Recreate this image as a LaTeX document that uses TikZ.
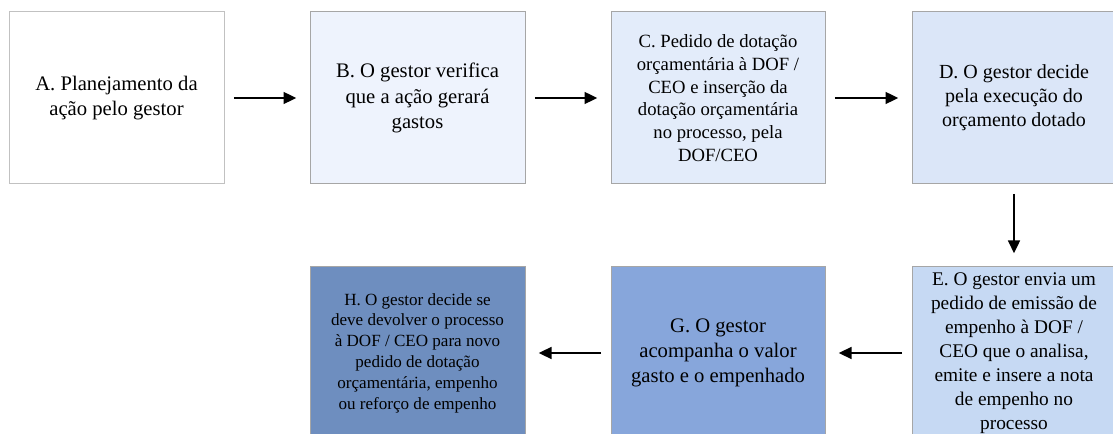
\documentclass[tikz,border=0pt]{standalone}
\usepackage{fontspec}
\setmainfont{Liberation Serif}
\newfontfamily\boxserif{Liberation Serif}
\usetikzlibrary{arrows.meta}
\definecolor{fillA}{HTML}{FFFFFF}
\definecolor{fillB}{HTML}{EEF3FD}
\definecolor{fillC}{HTML}{E3ECFA}
\definecolor{fillD}{HTML}{DBE6F8}
\definecolor{fillE}{HTML}{C6D9F3}
\definecolor{fillG}{HTML}{87A6DB}
\definecolor{fillH}{HTML}{6E8EBF}
\definecolor{edge}{HTML}{A6A6A6}
\newcommand{\boxfont}[2]{\boxserif\fontsize{#1}{#2}\selectfont}

\begin{document}
\begin{tikzpicture}[x=0.75pt, y=-0.75pt,
  stage/.style={draw=edge, line width=0.75pt, align=center, inner sep=0pt,
    minimum width=161.25pt, minimum height=129pt, font=\boxfont{15.5}{19}},
  flow/.style={-{Triangle[length=9.5pt,width=9pt]}, line width=1.2pt,
    shorten <=7pt, shorten >=10pt}]
\useasboundingbox (0,0) rectangle (1113,434);

% first row
\node[stage, draw=edge!70, fill=fillA] (a) at (116.5,98)
  {A. Planejamento da\\ação pelo gestor};
\node[stage, fill=fillB] (b) at (417.5,98)
  {B. O gestor verifica\\que a ação gerará\\gastos};
\node[stage, fill=fillC, minimum width=160.5pt, font=\boxfont{14}{17}] (c) at (718,98)
  {C. Pedido de dotação\\orçamentária à DOF /\\CEO e inserção da\\dotação orçamentária\\no processo, pela\\DOF/CEO};
\node[stage, fill=fillD, minimum width=153pt, font=\boxfont{15}{18}] (d) at (1014,98)
  {D. O gestor decide\\pela execução do\\orçamento dotado};

% second row
\node[stage, fill=fillE, minimum width=153pt, font=\boxfont{14.5}{18}] (e) at (1014,353)
  {E. O gestor envia um\\pedido de emissão de\\empenho à DOF /\\CEO que o analisa,\\emite e insere a nota\\de empenho no\\processo};
\node[stage, fill=fillG, minimum width=160.5pt] (g) at (718,353)
  {G. O gestor\\acompanha o valor\\gasto e o empenhado};
\node[stage, fill=fillH, font=\boxfont{12.8}{15.6}] (h) at (417.5,353)
  {H. O gestor decide se\\deve devolver o processo\\à DOF / CEO para novo\\pedido de dotação\\orçamentária, empenho\\ou reforço de empenho};

% arrows
\draw[flow] (a) -- (b);
\draw[flow] (b) -- (c);
\draw[flow] (c) -- (d);
\draw[flow] (d) -- (e);
\draw[flow] (e) -- (g);
\draw[flow] (g) -- (h);

\end{tikzpicture}
\end{document}
